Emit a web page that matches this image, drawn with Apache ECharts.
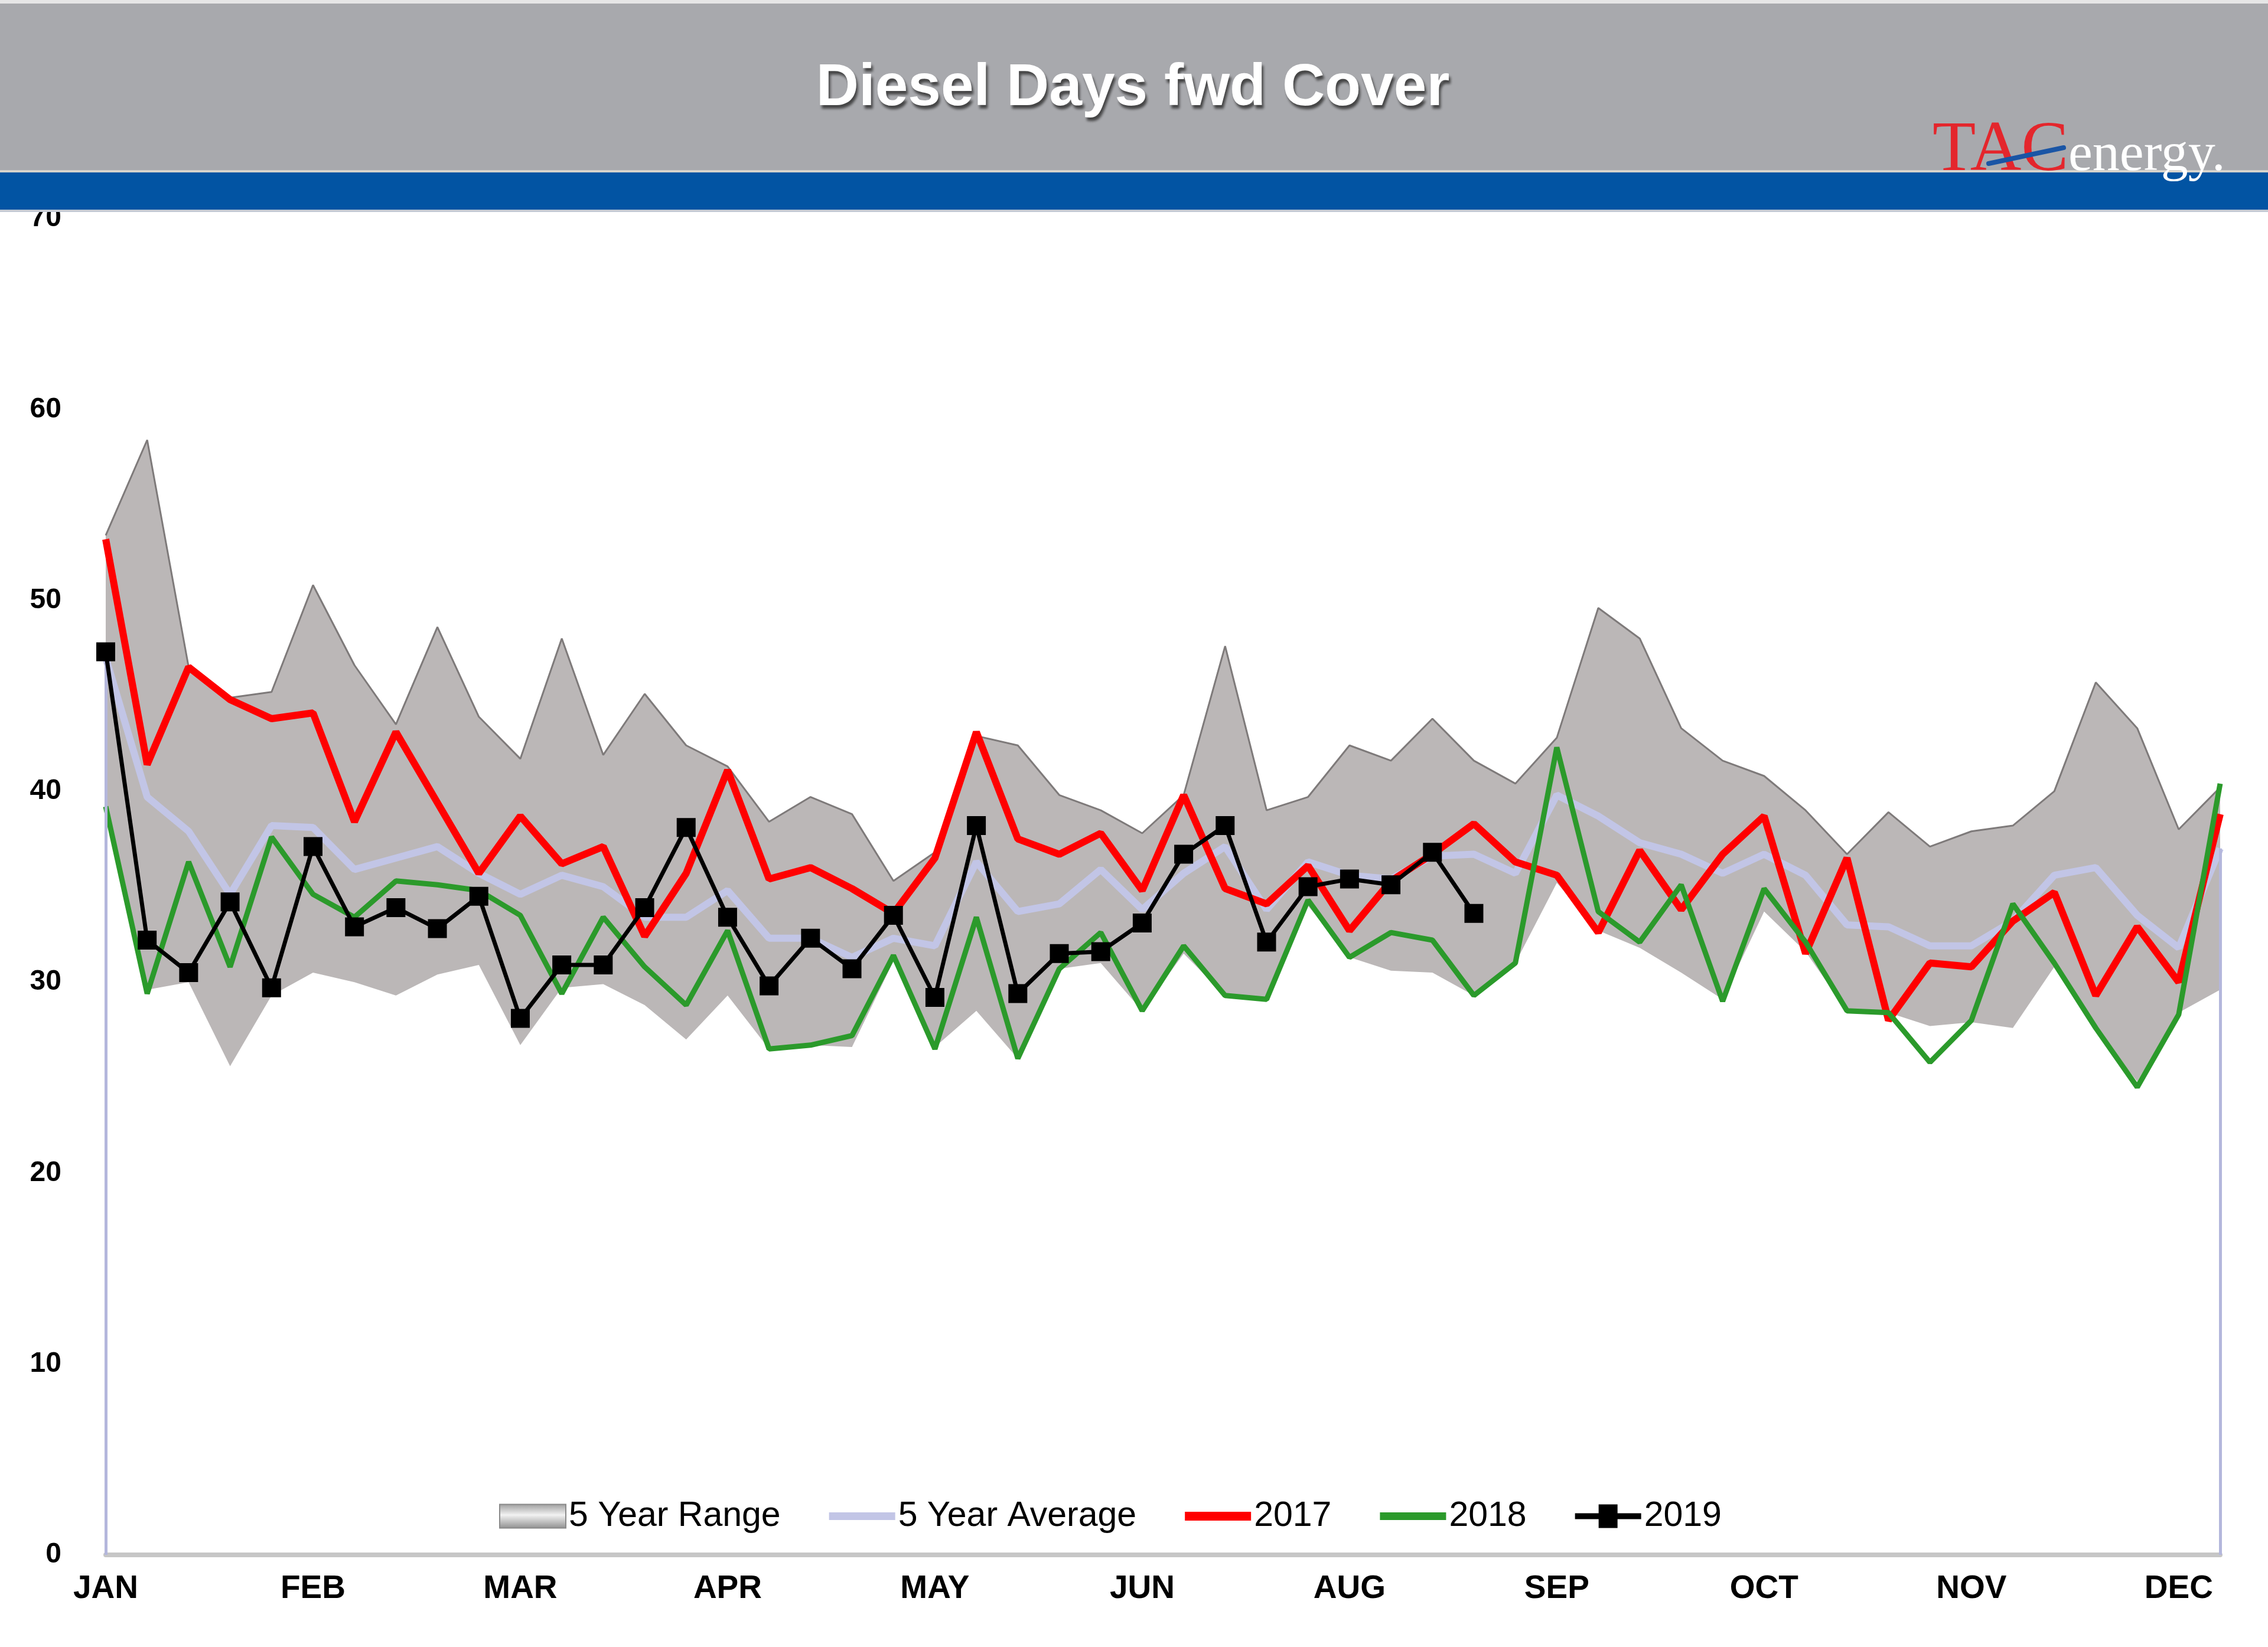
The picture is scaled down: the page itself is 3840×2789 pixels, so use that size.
<!DOCTYPE html>
<html>
<head>
<meta charset="utf-8">
<script src="https://cdn.jsdelivr.net/npm/echarts@6/dist/echarts.min.js"></script>
<style>
html,body{margin:0;padding:0;background:#fff;}
#c{width:3840px;height:2789px;}
</style>
</head>
<body>
<div id="c"></div>
<script>
const weeks = [1,2,3,4,5,6,7,8,9,10,11,12,13,14,15,16,17,18,19,20,21,22,23,24,25,26,27,28,29,30,31,32,33,34,35,36,37,38,39,40,41,42,43,44,45,46,47,48,49,50,51,52];
const monthLabels = ['JAN','FEB','MAR','APR','MAY','JUN','AUG','SEP','OCT','NOV','DEC'];
const yTicks = [0,10,20,30,40,50,60,70];

const rangeUpper = [53.4,58.4,46.5,44.9,45.2,50.8,46.6,43.5,48.6,43.9,41.7,48.0,41.9,45.1,42.4,41.3,38.4,39.7,38.8,35.3,36.8,42.9,42.4,39.8,39.0,37.8,39.8,47.6,39.0,39.7,42.4,41.6,43.8,41.6,40.4,42.8,49.6,48.0,43.3,41.6,40.8,39.0,36.7,38.9,37.1,37.9,38.2,40.0,45.7,43.3,38.0,40.2];
const rangeLower = [39.2,29.6,30.0,25.6,29.3,30.5,30.0,29.3,30.4,30.9,26.7,29.7,29.9,28.8,27.0,29.3,26.5,26.7,26.6,31.1,26.6,28.5,26.0,30.7,31.0,28.5,31.5,29.3,29.1,34.0,31.3,30.6,30.5,29.3,31.0,35.2,32.7,31.8,30.5,29.1,33.7,31.6,28.5,28.4,27.7,27.9,27.6,30.8,27.5,24.8,28.4,29.6];
const avg5 = [47.0,39.7,37.9,34.6,38.2,38.1,35.9,36.5,37.1,35.7,34.6,35.6,35.0,33.4,33.4,34.8,32.3,32.3,31.3,32.3,31.9,36.3,33.7,34.1,35.9,33.8,35.7,37.1,33.8,36.3,35.6,35.4,36.6,36.7,35.7,39.8,38.7,37.3,36.7,35.7,36.7,35.6,33.0,32.9,31.9,31.9,33.2,35.6,36.0,33.5,31.8,37.0];
const y2017 = [53.2,41.4,46.5,44.8,43.8,44.1,38.4,43.1,39.4,35.7,38.7,36.2,37.1,32.4,35.7,41.1,35.4,36.0,34.9,33.6,36.5,43.1,37.5,36.7,37.8,34.8,39.8,34.9,34.1,36.1,32.7,35.3,36.7,38.3,36.3,35.6,32.6,36.9,33.8,36.7,38.7,31.5,36.5,28.0,31.0,30.8,33.2,34.7,29.3,32.9,30.0,38.8];
const y2018 = [39.2,29.4,36.3,30.8,37.6,34.6,33.4,35.3,35.1,34.8,33.5,29.4,33.4,30.8,28.8,32.7,26.5,26.7,27.2,31.4,26.5,33.4,26.0,30.7,32.6,28.5,31.9,29.3,29.1,34.3,31.3,32.6,32.2,29.3,31.0,42.3,33.7,32.1,35.1,29.0,34.9,32.1,28.5,28.4,25.8,28.0,34.1,31.0,27.6,24.5,28.3,40.4];
const y2019 = [47.3,32.2,30.5,34.2,29.7,37.1,32.9,33.9,32.8,34.5,28.1,30.9,30.9,33.9,38.1,33.4,29.8,32.3,30.7,33.5,29.2,38.2,29.4,31.5,31.6,33.1,36.7,38.2,32.1,35.0,35.4,35.1,36.8,33.6];

const rangeBand = rangeUpper.map((u, i) => +(u - rangeLower[i]).toFixed(2));

const chart = echarts.init(document.getElementById('c'));
const lastIdx = weeks.length - 1;

chart.setOption({
  animation: false,
  backgroundColor: '#ffffff',
  grid: { left: 179, right: 81, top: 370, bottom: 156 },
  legend: {
    left: 840, top: 2533,
    itemWidth: 112, itemHeight: 40, itemGap: 82,
    textStyle: { fontSize: 59, color: '#000', fontFamily: 'Liberation Sans' },
    data: [
      { name: '5 Year Range', icon: 'rect', itemStyle: { color: new echarts.graphic.LinearGradient(0,0,0,1,[{offset:0,color:'#9c9c9c'},{offset:0.45,color:'#f2f2f2'},{offset:1,color:'#8e8e8e'}]), borderColor:'#8a8a8a', borderWidth:2 } },
      { name: '5 Year Average', icon: 'path://M0,0H112V13H0Z', itemStyle: { color: '#c2c5e6' } },
      { name: '2017', icon: 'path://M0,0H112V15H0Z', itemStyle: { color: '#ff0000' } },
      { name: '2018', icon: 'path://M0,0H112V13H0Z', itemStyle: { color: '#2b9a2b' } },
      { name: '2019', icon: 'path://M0,15H40V0H72V15H112V25H72V40H40V25H0Z', itemStyle: { color: '#000000' } }
    ]
  },
  xAxis: {
    type: 'category', boundaryGap: false, data: weeks,
    axisTick: { show: false },
    axisLine: { lineStyle: { color: '#c6c6c6', width: 8 } },
    axisLabel: {
      interval: 4, margin: 30, fontSize: 55, fontWeight: 'bold', color: '#000', fontFamily: 'Liberation Sans',
      formatter: (v, i) => monthLabels[Math.round(i / 5)] || ''
    },
    splitLine: { show: false }
  },
  yAxis: {
    type: 'value', min: yTicks[0], max: yTicks[yTicks.length-1], interval: 10,
    axisLine: { show: false }, axisTick: { show: false }, splitLine: { show: false },
    axisLabel: { margin: 75, fontSize: 48, fontWeight: 'bold', color: '#000', fontFamily: 'Liberation Sans' }
  },
  series: [
    { name: 'rangeBase', type: 'line', stack: 'range', data: rangeLower, symbol: 'none',
      lineStyle: { width: 0, opacity: 0 }, silent: true, z: 1 },
    { name: '5 Year Range', type: 'line', stack: 'range', data: rangeBand, symbol: 'none', z: 1,
      lineStyle: { color: '#7e7a7a', width: 3 },
      itemStyle: { color: '#bbb7b7' },
      areaStyle: { color: '#bbb7b7', opacity: 1 } },
    { name: '5 Year Average', type: 'line', data: avg5, symbol: 'none', z: 2,
      lineStyle: { color: '#c2c5e6', width: 12 },
      itemStyle: { color: '#c2c5e6' },
      markLine: {
        silent: true, symbol: ['none','none'], label: { show: false },
        lineStyle: { color: '#b4b7dc', width: 5, type: 'solid' },
        data: [
          [ { coord: [0, 0] }, { coord: [0, avg5[0]] } ],
          [ { coord: [lastIdx, 0] }, { coord: [lastIdx, avg5[lastIdx]] } ]
        ]
      } },
    { name: '2017', type: 'line', data: y2017, symbol: 'none', z: 3,
      lineStyle: { color: '#ff0000', width: 12 }, itemStyle: { color: '#ff0000' } },
    { name: '2018', type: 'line', data: y2018, symbol: 'none', z: 4,
      lineStyle: { color: '#2b9a2b', width: 9 }, itemStyle: { color: '#2b9a2b' } },
    { name: '2019', type: 'line', data: y2019, symbol: 'rect', symbolSize: 32, z: 5,
      lineStyle: { color: '#000', width: 7 }, itemStyle: { color: '#000' } }
  ],
  graphic: { elements: [
    { type: 'rect', z: 100, shape: { x: 0, y: 0, width: 3840, height: 6 }, style: { fill: '#e6e6e6' } },
    { type: 'rect', z: 100, shape: { x: 0, y: 6, width: 3840, height: 282 }, style: { fill: '#a8a9ad' } },
    { type: 'rect', z: 100, shape: { x: 0, y: 288, width: 3840, height: 4 }, style: { fill: '#d6d3cc' } },
    { type: 'rect', z: 100, shape: { x: 0, y: 292, width: 3840, height: 63 }, style: { fill: '#0254a3' } },
    { type: 'rect', z: 100, shape: { x: 0, y: 355, width: 3840, height: 4 }, style: { fill: '#c4cad4' } },
    { type: 'text', z: 101, x: 1918, y: 150, style: {
        text: 'Diesel Days fwd Cover', fill: '#ffffff', fontSize: 100, fontWeight: 'bold', fontFamily: 'Liberation Sans',
        textAlign: 'center', textVerticalAlign: 'middle',
        textShadowColor: 'rgba(50,50,50,0.85)', textShadowBlur: 4, textShadowOffsetX: 3, textShadowOffsetY: 6 } },
    { type: 'text', z: 101, x: 3272, y: 256, style: {
        text: 'TAC', fill: '#e4262c', fontSize: 120, fontFamily: 'Liberation Serif',
        textAlign: 'left', textVerticalAlign: 'middle' } },
    { type: 'line', z: 102, shape: { x1: 3367, y1: 277, x2: 3494, y2: 250 }, style: { stroke: '#1a55a5', lineWidth: 8, lineCap: 'round' } },
    { type: 'text', z: 101, x: 3502, y: 264, style: {
        text: 'energy.', fill: '#ffffff', fontSize: 92, fontFamily: 'Liberation Serif',
        textAlign: 'left', textVerticalAlign: 'middle' } }
  ] }
});
</script>
</body>
</html>
